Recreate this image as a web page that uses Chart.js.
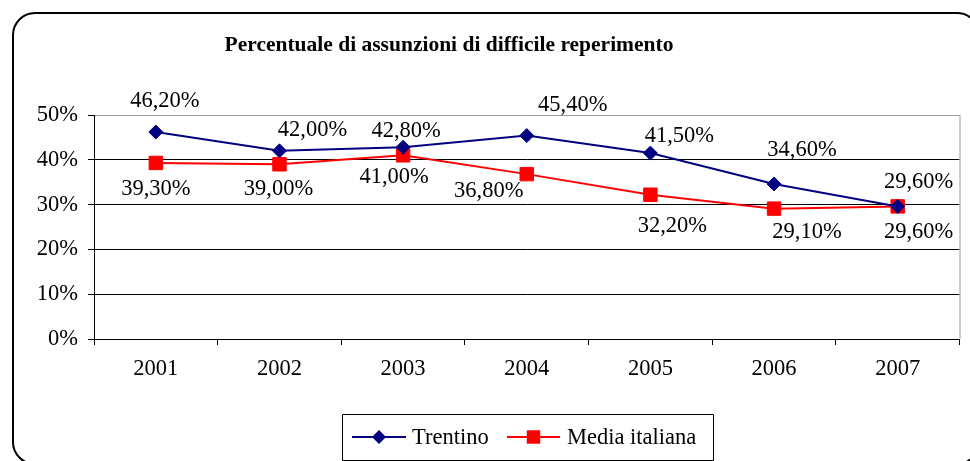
<!DOCTYPE html>
<html>
<head>
<meta charset="utf-8">
<script src="https://cdn.jsdelivr.net/npm/chart.js@4.4.1/dist/chart.umd.min.js"></script>
<style>
  html, body { margin: 0; padding: 0; background: #fff; }
  #wrap { width: 970px; height: 461px; position: relative; }
</style>
</head>
<body>
<div id="wrap"><canvas id="c" width="970" height="461"></canvas></div>
<script>
const categories = ['2001', '2002', '2003', '2004', '2005', '2006', '2007'];
const trentino = [46.2, 42.0, 42.8, 45.4, 41.5, 34.6, 29.6];
const mediaItaliana = [39.3, 39.0, 41.0, 36.8, 32.2, 29.1, 29.6];
const yTickValues = [0, 10, 20, 30, 40, 50];
const seriesNames = ['Trentino', 'Media italiana'];
const titleText = 'Percentuale di assunzioni di difficile reperimento';

const FONT = '"Liberation Serif", "Times New Roman", serif';
const FS = 22.5;
const fmt = v => v.toFixed(2).replace('.', ',') + '%';

const labelOffsets = [
  [[9,-31],[33,-21],[3,-16],[46,-31],[29,-17],[28,-34],[21,-24]],
  [[0,26],[-1,25],[-9,22],[-38,17],[22,31],[33,23],[21,26]]
];

function drawMarker(ctx, style, x, y, r) {
  if (style === 'rect') {
    const s = Math.SQRT1_2 * r;
    ctx.rect(x - s, y - s, 2 * s, 2 * s);
  } else {
    ctx.moveTo(x - r, y);
    ctx.lineTo(x, y - r);
    ctx.lineTo(x + r, y);
    ctx.lineTo(x, y + r);
    ctx.closePath();
  }
}

const framePlugin = {
  id: 'frame',
  beforeDraw(chart) {
    const ctx = chart.ctx;
    ctx.save();
    ctx.fillStyle = '#fff';
    ctx.fillRect(0, 0, chart.width, chart.height);
    ctx.strokeStyle = '#000';
    ctx.lineWidth = 2;
    ctx.beginPath();
    if (ctx.roundRect) ctx.roundRect(13, 13, 966, 451, 22);
    else ctx.rect(13, 13, 966, 451);
    ctx.stroke();
    ctx.fillStyle = '#000';
    ctx.font = 'bold 21.5px ' + FONT;
    ctx.textAlign = 'center';
    ctx.textBaseline = 'middle';
    ctx.fillText(titleText, 449, 45);
    ctx.restore();
  },
  afterDraw(chart) {
    const ctx = chart.ctx;
    const a = chart.chartArea;
    ctx.save();
    ctx.strokeStyle = '#9a9a9a';
    ctx.lineWidth = 1;
    ctx.beginPath();
    ctx.moveTo(a.right + 0.5, a.top);
    ctx.lineTo(a.right + 0.5, a.bottom);
    ctx.stroke();
    const bx = 342, by = 414, bw = 371, bh = 46;
    ctx.strokeStyle = '#000';
    ctx.beginPath();
    ctx.rect(bx + 0.5, by + 0.5, bw, bh);
    ctx.stroke();
    const cy = by + bh / 2;
    const items = [
      { x1: 352, x2: 406, text: seriesNames[0], tx: 412, ds: 0 },
      { x1: 507, x2: 560, text: seriesNames[1], tx: 567, ds: 1 }
    ];
    items.forEach(it => {
      const ds = chart.data.datasets[it.ds];
      ctx.strokeStyle = ds.borderColor;
      ctx.lineWidth = 2;
      ctx.beginPath();
      ctx.moveTo(it.x1, cy);
      ctx.lineTo(it.x2, cy);
      ctx.stroke();
      ctx.fillStyle = ds.pointBackgroundColor;
      ctx.beginPath();
      drawMarker(ctx, ds.pointStyle, (it.x1 + it.x2) / 2, cy, ds.pointRadius);
      ctx.fill();
      ctx.fillStyle = '#000';
      ctx.font = FS + 'px ' + FONT;
      ctx.textAlign = 'left';
      ctx.textBaseline = 'middle';
      ctx.fillText(it.text, it.tx, cy + 1);
    });
    ctx.restore();
  },
  afterDatasetsDraw(chart) {
    const ctx = chart.ctx;
    ctx.save();
    ctx.fillStyle = '#000';
    ctx.font = FS + 'px ' + FONT;
    ctx.textAlign = 'center';
    ctx.textBaseline = 'middle';
    chart.data.datasets.forEach((ds, di) => {
      const meta = chart.getDatasetMeta(di);
      meta.data.forEach((pt, i) => {
        const off = labelOffsets[di][i];
        ctx.fillText(fmt(ds.data[i]), pt.x + off[0], pt.y + off[1]);
      });
    });
    ctx.restore();
  }
};

new Chart(document.getElementById('c'), {
  type: 'line',
  data: {
    labels: categories,
    datasets: [
      {
        label: seriesNames[0],
        data: trentino,
        borderColor: '#000080',
        backgroundColor: '#000080',
        pointBackgroundColor: '#000080',
        pointBorderColor: '#000080',
        pointStyle: 'rectRot',
        pointRadius: 7,
        pointBorderWidth: 1,
        borderWidth: 2,
        tension: 0
      },
      {
        label: seriesNames[1],
        data: mediaItaliana,
        borderColor: '#ff0000',
        backgroundColor: '#ff0000',
        pointBackgroundColor: '#ff0000',
        pointBorderColor: '#ff0000',
        pointStyle: 'rect',
        pointRadius: 9.5,
        pointBorderWidth: 1,
        borderWidth: 2,
        tension: 0
      }
    ]
  },
  options: {
    responsive: false,
    animation: false,
    layout: { padding: { top: 115, right: 9, bottom: 0, left: 0 } },
    plugins: {
      legend: { display: false },
      title: { display: false },
      tooltip: { enabled: false }
    },
    scales: {
      x: {
        type: 'category',
        offset: true,
        afterFit(s) { s.height = 122; },
        grid: {
          offset: true,
          drawOnChartArea: false,
          drawTicks: true,
          tickLength: 6,
          color: '#000',
          lineWidth: 1
        },
        border: { display: true, color: '#000', width: 1 },
        ticks: {
          color: '#000',
          font: { family: FONT, size: FS },
          padding: 11,
          maxRotation: 0
        }
      },
      y: {
        min: 0,
        max: 50,
        afterFit(s) { s.width = 94; },
        afterBuildTicks(s) { s.ticks = yTickValues.map(v => ({ value: v })); },
        grid: {
          color: ctx => (ctx.tick && ctx.tick.value === 50) ? '#9a9a9a' : '#000',
          tickColor: '#000',
          tickLength: 6,
          lineWidth: 1
        },
        border: { display: true, color: '#000', width: 1 },
        ticks: {
          color: '#000',
          font: { family: FONT, size: FS },
          padding: 10,
          callback: v => v + '%'
        }
      }
    }
  },
  plugins: [framePlugin]
});
</script>
</body>
</html>
